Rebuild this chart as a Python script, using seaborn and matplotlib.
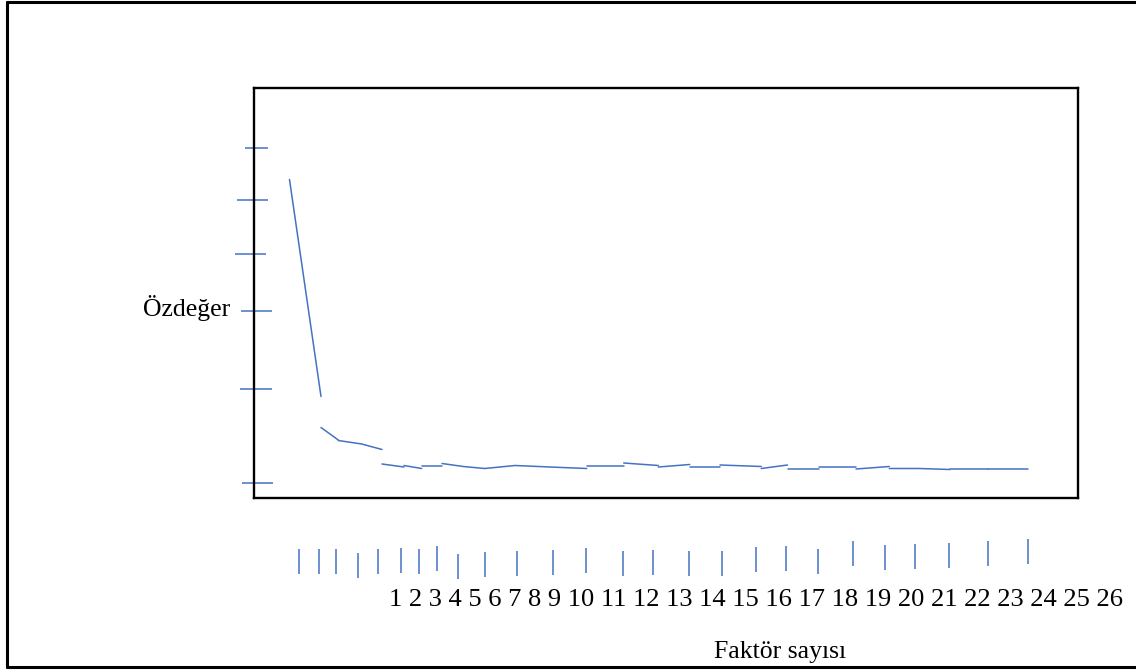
import numpy as np
import matplotlib
matplotlib.use("Agg")
import matplotlib.pyplot as plt
import seaborn as sns

###################### DATA ###########################
factors = list(range(1, 27))
tick_text = " ".join(str(f) for f in factors)

# the scree line is drawn in loose pieces: first factor of each piece + eigenvalues
piece_start = [1, 2, 3, 5, 6, 7, 8, 10, 13, 14, 15, 16, 17, 18, 19, 20, 21, 22, 24, 25]
piece_eig = [
    [6.07, 1.73],
    [1.11, 0.86],
    [0.85, 0.78, 0.67],
    [0.38, 0.32],
    [0.35, 0.29],
    [0.34, 0.34],
    [0.39, 0.33, 0.29],
    [0.29, 0.35, 0.32, 0.29],
    [0.34, 0.34],
    [0.40, 0.35],
    [0.32, 0.37],
    [0.32, 0.32],
    [0.36, 0.33],
    [0.29, 0.36],
    [0.28, 0.28],
    [0.33, 0.33],
    [0.28, 0.33],
    [0.29, 0.29, 0.27],
    [0.29, 0.29],
    [0.29, 0.29],
]
ytick_vals = [0, 1.88, 3.44, 4.58, 5.66, 6.70]

###################### LAYOUT (pixels) ###########################
W, H = 1136, 670
box = (254, 88, 1078, 498)  # left, top, right, bottom
vertex_px = [289.5, 321, 338.3, 361.7, 382, 404, 421.7, 442, 463.3, 484.7,
             515, 550, 586.7, 623.7, 658.3, 689.7, 720, 761.3, 787.5, 818.8,
             856, 889.3, 919.3, 950, 987.7, 1028.3]
ytick_span = [(245, 268.3), (237.3, 267.7), (235, 266), (241, 272.3),
              (240, 271.7), (242.3, 273.3)][::-1]
xtick_px = [299, 319.3, 336, 358.3, 377.7, 400.7, 419, 437, 457.7, 485,
            517, 553.3, 585.7, 622.5, 652.7, 688.5, 721.7, 756, 785.7, 817.7,
            853.3, 885, 915, 949.3, 988.3, 1027.7]
xtick_top = [549, 549, 549, 552.7, 549, 548.3, 549, 546, 554.3, 552.3,
             551, 550, 548.3, 551, 550, 551, 551, 547.3, 545.7, 549,
             541, 545, 544, 543.3, 541, 539.3]
tick_len = 25
blue = "#4472C4"
px_per_unit = 50.0
zero_px = 483.0

bw = box[2] - box[0]
def fx(p):
    return (np.asarray(p) - box[0]) / bw
def fy(p):
    return (zero_px - np.asarray(p)) / px_per_unit

sns.set_theme(style="white")
plt.rcParams['font.family'] = ['Liberation Serif', 'DejaVu Serif']
plt.rcParams['text.color'] = 'black'

fig = plt.figure(figsize=(W / 100, H / 100), dpi=100)
fig.patch.set_facecolor("white")

# background layer: page frame
bg = fig.add_axes([0, 0, 1, 1], zorder=-1)
bg.set_xlim(0, W)
bg.set_ylim(H, 0)
bg.axis("off")
bg.plot([7, W + 5], [2, 2], color="black", lw=2.2)
bg.plot([7, 7], [2, 667], color="black", lw=2.2)
bg.plot([7, W + 5], [667, 667], color="black", lw=2.2)

# chart box
ax = fig.add_axes([box[0] / W, 1 - box[3] / H, bw / W, (box[3] - box[1]) / H])
ax.set_facecolor("white")
ax.set_xlim(0, 1)
ax.set_ylim(fy(box[3]), fy(box[1]))
ax.set_xticks([])
ax.set_yticks([])
for s in ax.spines.values():
    s.set_visible(True)
    s.set_color("black")
    s.set_linewidth(1.7)

pos = fx(vertex_px)
for start, eig in zip(piece_start, piece_eig):
    idx = np.arange(start - 1, start - 1 + len(eig))
    sns.lineplot(x=pos[idx], y=eig, ax=ax, color=blue, linewidth=1.1,
                 legend=False, sort=False)

# loose tick marks
for v, (a, b) in zip(ytick_vals, ytick_span):
    ax.hlines(v, fx(a), fx(b), color=blue, lw=1.1, clip_on=False)
for xp, top in zip(xtick_px, xtick_top):
    ax.vlines(fx(xp), fy(top + tick_len), fy(top), color=blue, lw=1.1, clip_on=False)

fs = 18.5
fig.text(143 / W, 1 - 316 / H, "Özdeğer", fontsize=fs, ha="left", va="baseline", color="black")
fig.text(389 / W, 1 - 606 / H, tick_text, fontsize=19.05, ha="left", va="baseline", color="black")
fig.text(714 / W, 1 - 658 / H, "Faktör sayısı", fontsize=fs, ha="left", va="baseline", color="black")

fig.savefig("out.png", dpi=100)
